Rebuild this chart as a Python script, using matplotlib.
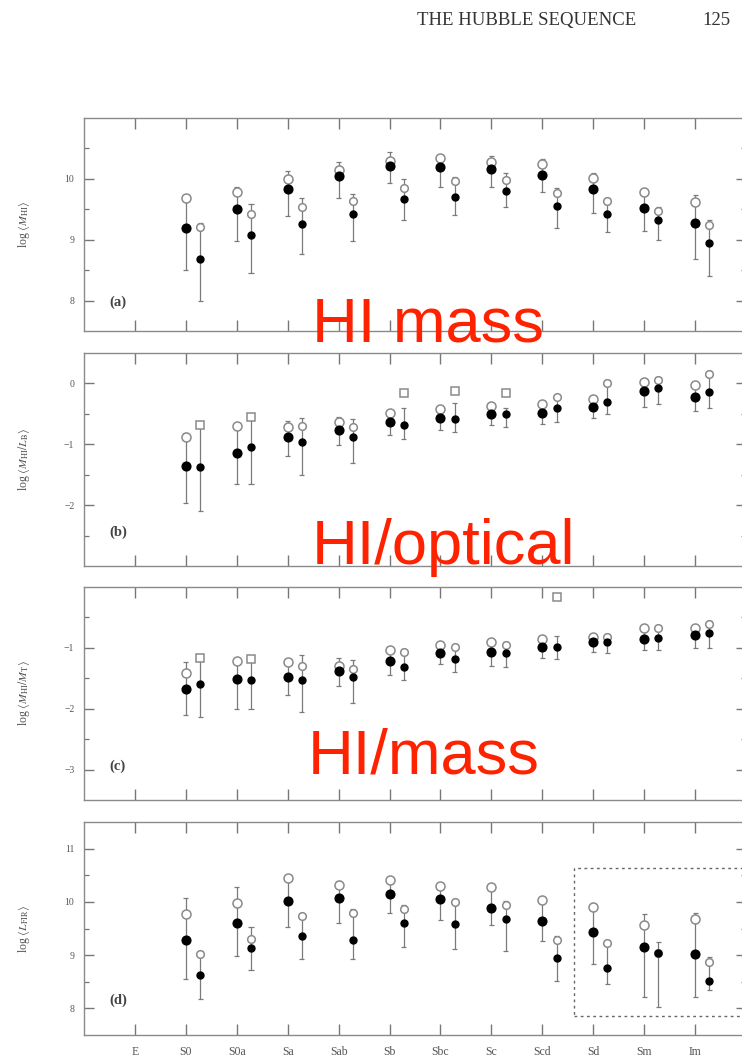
import numpy as np
import matplotlib
matplotlib.use('Agg')
import matplotlib.pyplot as plt
from matplotlib.patches import Rectangle

plt.rcParams['font.family'] = ['Liberation Serif', 'DejaVu Serif']
plt.rcParams['mathtext.fontset'] = 'stix'

# Hubble types (E has no points)
types = ['E', 'S0', 'S0a', 'Sa', 'Sab', 'Sb', 'Sbc', 'Sc', 'Scd', 'Sd', 'Sm', 'Im']

# (a) log <M_HI>
a_l_open = [9.69, 9.78, 10.00, 10.14, 10.30, 10.34, 10.27, 10.25, 10.02, 9.78, 9.62]
a_l_fill = [9.20, 9.50, 9.84, 10.05, 10.21, 10.19, 10.17, 10.07, 9.84, 9.52, 9.28]
a_l_hi = [9.71, 9.87, 10.13, 10.27, 10.44, 10.39, 10.37, 10.32, 10.09, 9.84, 9.74]
a_l_lo = [8.50, 8.98, 9.39, 9.68, 9.93, 9.87, 9.87, 9.79, 9.44, 9.15, 8.68]
a_r_open = [9.21, 9.42, 9.53, 9.63, 9.85, 9.96, 9.98, 9.76, 9.63, 9.47, 9.24]
a_r_fill = [8.69, 9.08, 9.26, 9.42, 9.67, 9.71, 9.80, 9.56, 9.42, 9.32, 8.94]
a_r_hi = [9.27, 9.59, 9.69, 9.75, 10.00, 10.03, 10.09, 9.85, 9.68, 9.53, 9.32]
a_r_lo = [7.99, 8.45, 8.76, 8.98, 9.32, 9.40, 9.53, 9.19, 9.13, 9.00, 8.40]
a_r_mark = ['o'] * 11

# (b) log <M_HI/L_B>
b_l_open = [-0.875, -0.70, -0.72, -0.63, -0.48, -0.42, -0.37, -0.33, -0.25, 0.03, -0.03]
b_l_fill = [-1.36, -1.14, -0.875, -0.77, -0.63, -0.57, -0.50, -0.48, -0.38, -0.12, -0.22]
b_l_hi = [-0.82, -0.65, -0.61, -0.55, -0.45, -0.38, -0.34, -0.29, -0.21, 0.07, 0.01]
b_l_lo = [-1.96, -1.65, -1.20, -1.01, -0.85, -0.77, -0.68, -0.66, -0.56, -0.38, -0.46]
b_r_open = [-0.68, -0.55, -0.70, -0.72, -0.15, -0.12, -0.16, -0.23, 0.01, 0.05, 0.16]
b_r_fill = [-1.37, -1.04, -0.96, -0.875, -0.68, -0.59, -0.50, -0.41, -0.30, -0.07, -0.14]
b_r_hi = [-0.63, -0.50, -0.57, -0.59, -0.41, -0.32, -0.41, -0.19, 0.05, 0.10, 0.21]
b_r_lo = [-2.09, -1.65, -1.50, -1.30, -0.91, -0.79, -0.72, -0.63, -0.50, -0.34, -0.41]
b_r_mark = ['s', 's', 'o', 'o', 's', 's', 's', 'o', 'o', 'o', 'o']

# (c) log <M_HI/M_T>
c_l_open = [-1.42, -1.22, -1.23, -1.30, -1.04, -0.95, -0.91, -0.85, -0.82, -0.68, -0.67]
c_l_fill = [-1.67, -1.51, -1.48, -1.38, -1.22, -1.09, -1.07, -0.98, -0.90, -0.86, -0.79]
c_l_hi = [-1.24, -1.17, -1.18, -1.16, -0.98, -0.90, -0.87, -0.80, -0.78, -0.65, -0.63]
c_l_lo = [-2.10, -2.00, -1.78, -1.63, -1.45, -1.27, -1.29, -1.16, -1.07, -1.04, -1.01]
c_r_open = [-1.165, -1.18, -1.30, -1.35, -1.06, -0.98, -0.95, -0.16, -0.82, -0.67, -0.60]
c_r_fill = [-1.59, -1.53, -1.53, -1.48, -1.31, -1.18, -1.08, -0.98, -0.90, -0.84, -0.75]
c_r_hi = [-1.12, -1.13, -1.11, -1.20, -1.02, -0.96, -0.90, -0.80, -0.78, -0.64, -0.56]
c_r_lo = [-2.14, -2.01, -2.05, -1.90, -1.52, -1.40, -1.31, -1.18, -1.08, -1.04, -1.01]
c_r_mark = ['s', 's', 'o', 'o', 'o', 'o', 'o', 's', 'o', 'o', 'o']

# (d) log <L_FIR>
d_l_open = [9.77, 9.98, 10.45, 10.31, 10.41, 10.30, 10.27, 10.04, 9.91, 9.56, 9.68]
d_l_fill = [9.29, 9.60, 10.02, 10.08, 10.14, 10.05, 9.89, 9.64, 9.44, 9.15, 9.02]
d_l_hi = [10.08, 10.27, 10.50, 10.39, 10.47, 10.36, 10.33, 10.10, 9.96, 9.77, 9.79]
d_l_lo = [8.56, 8.98, 9.52, 9.61, 9.80, 9.66, 9.56, 9.27, 8.84, 8.21, 8.21]
d_r_open = [9.02, 9.30, 9.73, 9.80, 9.86, 9.99, 9.94, 9.29, 9.23, 9.04, 8.87]
d_r_fill = [8.62, 9.13, 9.35, 9.29, 9.60, 9.58, 9.68, 8.94, 8.75, 9.04, 8.51]
d_r_hi = [9.08, 9.52, 9.80, 9.86, 9.94, 10.05, 10.02, 9.36, 9.27, 9.24, 8.96]
d_r_lo = [8.18, 8.73, 8.93, 8.92, 9.16, 9.12, 9.07, 8.52, 8.46, 8.02, 8.34]
d_r_mark = ['o'] * 11

GREY = '#8a8a8a'
BAR = '#7a7a7a'


def draw_points(ax, x, lo, hi, fill, opn, marks, fsize, osize):
    for i in range(len(x)):
        ax.vlines(x[i], lo[i], hi[i], color=BAR, lw=0.9, zorder=2)
        ax.hlines([lo[i], hi[i]], x[i] - 0.05, x[i] + 0.05, color=BAR, lw=0.9, zorder=2)
        ax.plot(x[i], opn[i], marker=marks[i], ms=osize, mfc='white', mec=GREY, mew=1.1,
                ls='none', zorder=3)
        ax.plot(x[i], fill[i], marker='o', ms=fsize, mfc='black', mec='black', ls='none', zorder=4)


def panel(ax, l_open, l_fill, l_lo, l_hi, r_open, r_fill, r_lo, r_hi, r_mark,
          ylim, majors, ylabel, tag, tag_y):
    x = np.arange(1, len(types))
    draw_points(ax, x, l_lo, l_hi, l_fill, l_open, ['o'] * len(x), 6.3, 6.5)
    draw_points(ax, x + 0.28, r_lo, r_hi, r_fill, r_open, r_mark, 5.0, 5.5)
    ax.set_xlim(-1, 12)
    ax.set_ylim(*ylim)
    ax.set_xticks(np.arange(len(types)))
    ax.set_xticklabels([])
    ax.set_yticks(majors)
    ax.set_yticklabels([str(m).replace('-', '\u2212') for m in majors])
    minors = [m + 0.5 for m in majors if m + 0.5 < ylim[1]]
    if majors[0] - 0.5 > ylim[0]:
        minors.append(majors[0] - 0.5)
    ax.set_yticks(minors, minor=True)
    ax.tick_params(axis='both', which='both', direction='in', top=True, right=True,
                   color='#777777', labelcolor='#555555')
    ax.tick_params(axis='x', which='major', length=8, width=1.0)
    ax.tick_params(axis='y', which='major', length=7, width=1.0, labelsize=7, pad=7)
    ax.tick_params(axis='y', which='minor', length=3.5, width=0.9)
    for s in ax.spines.values():
        s.set_color('#8a8a8a')
        s.set_linewidth(1.0)
    ax.set_ylabel(ylabel, fontsize=8.5, color='#555555')
    ax.yaxis.set_label_coords(-0.078, 0.5)
    ax.text(-0.5, tag_y, tag, fontsize=10.5, fontweight='bold', color='#444444',
            ha='left', va='center')


fig = plt.figure(figsize=(7.42, 10.59), dpi=100)

L, W, H = 84 / 742, 662 / 742, 213 / 1059
ax_a = fig.add_axes([L, 1 - 331 / 1059, W, H])
ax_b = fig.add_axes([L, 1 - 566 / 1059, W, H])
ax_c = fig.add_axes([L, 1 - 800 / 1059, W, H])
ax_d = fig.add_axes([L, 1 - 1035 / 1059, W, H])

panel(ax_a, a_l_open, a_l_fill, a_l_lo, a_l_hi, a_r_open, a_r_fill, a_r_lo, a_r_hi, a_r_mark,
      (7.5, 11.0), [8, 9, 10], r'log $\langle M_{\rm HI}\rangle$', '(a)', 7.98)
panel(ax_b, b_l_open, b_l_fill, b_l_lo, b_l_hi, b_r_open, b_r_fill, b_r_lo, b_r_hi, b_r_mark,
      (-3.0, 0.5), [-2, -1, 0], r'log $\langle M_{\rm HI}/L_{\rm B}\rangle$', '(b)', -2.45)
panel(ax_c, c_l_open, c_l_fill, c_l_lo, c_l_hi, c_r_open, c_r_fill, c_r_lo, c_r_hi, c_r_mark,
      (-3.5, 0.0), [-3, -2, -1], r'log $\langle M_{\rm HI}/M_{\rm T}\rangle$', '(c)', -2.94)
panel(ax_d, d_l_open, d_l_fill, d_l_lo, d_l_hi, d_r_open, d_r_fill, d_r_lo, d_r_hi, d_r_mark,
      (7.5, 11.5), [8, 9, 10, 11], r'log $\langle L_{\rm FIR}\rangle$', '(d)', 8.15)

ax_d.set_xticklabels(types)
ax_d.tick_params(axis='x', labelsize=8.5, pad=8, labelcolor='#555555')

# dotted box round the late types in (d)
ax_d.add_patch(Rectangle((8.63, 7.86), 4.0, 2.78, fill=False, ec='#666666', lw=1.0,
                         ls=(0, (2, 2.5)), zorder=1))

fig.text(0.5625, 0.981, 'THE HUBBLE SEQUENCE', fontsize=13.5, color='#333333',
         ha='left', va='center')
fig.text(0.985, 0.981, '125', fontsize=13.5, color='#333333', ha='right', va='center')

red = '#ff2200'
fig.text(312 / 742, 1 - 341 / 1059, 'HI mass', fontsize=45.5, color=red,
         family='Liberation Sans', ha='left', va='baseline', zorder=10)
fig.text(312 / 742, 1 - 564 / 1059, 'HI/optical', fontsize=45.5, color=red,
         family='Liberation Sans', ha='left', va='baseline', zorder=10)
fig.text(308 / 742, 1 - 773 / 1059, 'HI/mass', fontsize=45.5, color=red,
         family='Liberation Sans', ha='left', va='baseline', zorder=10)

fig.savefig('out.png', dpi=100)
